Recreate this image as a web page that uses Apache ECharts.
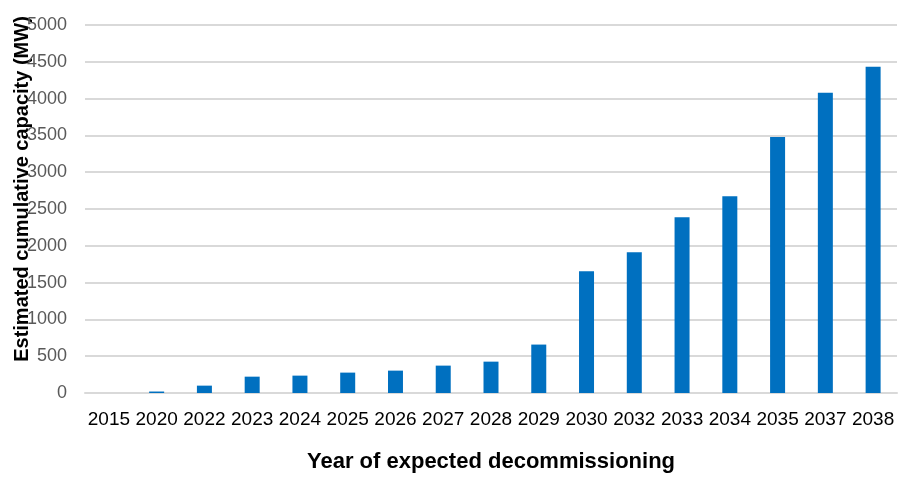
<!DOCTYPE html>
<html>
<head>
<meta charset="utf-8">
<script src="https://cdn.jsdelivr.net/npm/echarts@6/dist/echarts.min.js"></script>
<style>
  html, body { margin: 0; padding: 0; background: #fff; }
  #chart { width: 899px; height: 487px; }
</style>
</head>
<body>
<div id="chart"></div>
<script>
// Decommissioning years and cumulative capacity (MW)
const years = ['2015', '2020', '2022', '2023', '2024', '2025', '2026', '2027', '2028',
               '2029', '2030', '2032', '2033', '2034', '2035', '2037', '2038'];
const capacityMW = [0, 20, 100, 222, 236, 277, 304, 372, 426,
                    658, 1653, 1911, 2388, 2674, 3478, 4078, 4432];
const yTicks = { min: 0, max: 5000, step: 500 };

const chart = echarts.init(document.getElementById('chart'), null, { renderer: 'canvas' });

chart.setOption({
  animation: false,
  textStyle: { fontFamily: 'Liberation Sans, Arial, sans-serif' },
  grid: { left: 85, right: 2, top: 25, bottom: 94, containLabel: false, outerBoundsMode: 'none' },
  xAxis: {
    type: 'category',
    data: years,
    name: 'Year of expected decommissioning',
    nameLocation: 'middle',
    nameGap: 58,
    nameMoveOverlap: false,
    nameTextStyle: { fontSize: 22, fontWeight: 'bold', color: '#000' },
    axisLine: { show: true, lineStyle: { color: '#d9d9d9', width: 2 } },
    axisTick: { show: false },
    axisLabel: { fontSize: 19, color: '#000', margin: 17, interval: 0 }
  },
  yAxis: {
    type: 'value',
    min: yTicks.min,
    max: yTicks.max,
    interval: yTicks.step,
    name: 'Estimated cumulative capacity (MW)',
    nameLocation: 'middle',
    nameGap: 53,
    nameMoveOverlap: false,
    nameTextStyle: { fontSize: 20, fontWeight: 'bold', color: '#000', padding: [0, 0, 0, 40] },
    axisLine: { show: false },
    axisTick: { show: false },
    axisLabel: { fontSize: 18, color: '#595959', margin: 18, formatter: v => String(v) },
    splitLine: { lineStyle: { color: '#d9d9d9', width: 2 } }
  },
  series: [{
    type: 'bar',
    data: capacityMW,
    barWidth: 15,
    itemStyle: { color: '#0070c0' }
  }]
});
</script>
</body>
</html>
